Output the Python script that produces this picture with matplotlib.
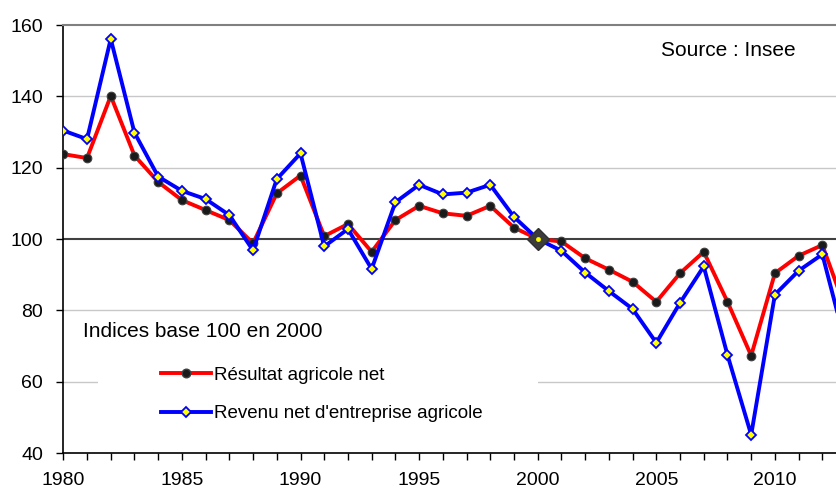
import matplotlib
matplotlib.use("Agg")
import matplotlib.pyplot as plt
from matplotlib.lines import Line2D
from matplotlib.patches import Rectangle

plt.rcParams['font.family'] = ['Liberation Sans', 'DejaVu Sans']

years = list(range(1980, 2014))
resultat = [123.8, 122.7, 140.1, 123.4, 116.0, 110.9, 108.1, 105.3, 98.8, 112.8,
            117.8, 100.8, 104.2, 96.4, 105.3, 109.3, 107.2, 106.5, 109.3, 103.2,
            100.0, 99.3, 94.6, 91.4, 88.0, 82.4, 90.4, 96.4, 82.4, 67.3,
            90.4, 95.3, 98.3, 80.0]
revenu = [130.4, 128.0, 156.1, 129.8, 117.5, 113.5, 111.2, 106.7, 96.8, 116.8,
          124.0, 97.9, 102.8, 91.6, 110.3, 115.2, 112.5, 113.0, 115.2, 106.2,
          100.0, 96.7, 90.6, 85.4, 80.4, 70.9, 82.1, 92.3, 67.5, 45.1,
          84.4, 91.1, 95.7, 70.0]
label_res = "Résultat agricole net"
label_rev = "Revenu net d'entreprise agricole"
yticks = [40, 60, 80, 100, 120, 140, 160]
xticks = [1980, 1985, 1990, 1995, 2000, 2005, 2010]

fig = plt.figure(figsize=(8.37, 4.90), dpi=100)
ax = fig.add_axes([63.3/837, 1 - 453/490, 1 - 63.3/837, (453 - 25)/490])

ax.set_xlim(1980, 1980 + (837 - 63.3) / 23.72)
ax.set_ylim(40, 160)

# gridlines
for v in [60, 80, 120, 140]:
    ax.axhline(v, color='#c8c8c8', lw=1.0, zorder=0)
ax.axhline(100, color='#404040', lw=1.5, zorder=1)
# white legend area hiding part of the 60 gridline
ax.add_patch(Rectangle((1981.46, 57.5), 2000 - 1981.46, 5, facecolor='white',
                       edgecolor='none', zorder=0.5))

LW = 2.8
ax.plot(years, resultat, color='#ff0000', lw=LW, marker='o', ms=6.2,
        mfc='#1a1a1a', mec='#404040', mew=0.8, zorder=3, clip_on=True)
ax.plot(years, revenu, color='#0000ff', lw=LW, marker='D', ms=5.5,
        mfc='#ffff00', mec='#0000ff', mew=1.3, zorder=4, clip_on=True)
# highlighted base-year marker
i2000 = years.index(2000)
ax.plot([years[i2000]], [revenu[i2000]], marker='D', ms=11, mfc='#3c3c3c',
        mec='#303030', mew=1, zorder=5, ls='none')
ax.plot([years[i2000]], [revenu[i2000]], marker='o', ms=3.5, mfc='#ffff00',
        mec='#ffff00', mew=0, zorder=6, ls='none')

ax.spines['right'].set_visible(False)
ax.spines['top'].set_color('#808080')
ax.spines['top'].set_linewidth(1.5)
ax.spines['left'].set_linewidth(1.2)
ax.spines['bottom'].set_linewidth(1.2)

ax.set_yticks(yticks)
ax.set_xticks(xticks)
ax.set_xticks(years[:33], minor=True)
ax.tick_params(axis='both', which='major', labelsize=14, length=5, width=1, direction='out')
ax.tick_params(axis='x', which='minor', length=5, width=1, direction='out')
ax.tick_params(axis='x', pad=8.5)
ax.tick_params(axis='y', pad=9.5)

ax.text((796 - 63.3) / 774, 1 - (55.6 - 25) / 428, "Source : Insee", transform=ax.transAxes,
        ha='right', va='baseline', fontsize=15)
ax.text(1980.83, 72.6, "Indices base 100 en 2000", ha='left', va='baseline', fontsize=15)

handles = [Line2D([], [], color='#ff0000', lw=LW, marker='o', ms=6.2, mfc='#1a1a1a', mec='#404040'),
           Line2D([], [], color='#0000ff', lw=LW, marker='D', ms=5.5, mfc='#ffff00', mec='#0000ff', mew=1.3)]
leg = ax.legend(handles, [label_res, label_rev], loc='center left',
                bbox_to_anchor=((161 - 63.3) / 774, 1 - (394.5 - 25) / 428),
                frameon=False, fontsize=13.5, borderpad=0, borderaxespad=0,
                handlelength=2.67, handletextpad=0.16, labelspacing=1.12)

fig.savefig("out.png", dpi=100)
